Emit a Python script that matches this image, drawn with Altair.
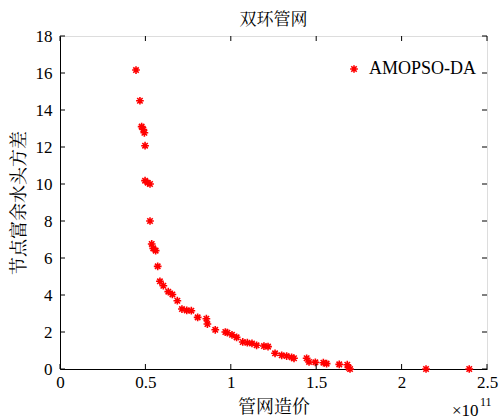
import altair as alt
import pandas as pd

# 管网造价 (x 1e11) and 节点富余水头方差
cost = [0.445, 0.468, 0.478, 0.488, 0.494, 0.498, 0.498, 0.513, 0.527,
        0.527, 0.537, 0.546, 0.560, 0.572, 0.585, 0.605, 0.634, 0.658, 0.687,
        0.714, 0.742, 0.769, 0.806, 0.857, 0.863, 0.909, 0.968, 0.980, 1.007,
        1.034, 1.070, 1.097, 1.124, 1.151, 1.194, 1.218, 1.259, 1.298, 1.327,
        1.356, 1.370, 1.444, 1.458, 1.495, 1.542, 1.561, 1.635, 1.682, 1.690,
        1.698, 2.143, 2.396]
variance = [16.16, 14.50, 13.10, 12.95, 12.77, 12.07, 10.18, 10.07, 10.00,
            8.00, 6.76, 6.52, 6.40, 5.55, 4.74, 4.50, 4.18, 4.03, 3.69,
            3.24, 3.17, 3.15, 2.79, 2.72, 2.43, 2.12, 2.00, 1.96, 1.85,
            1.71, 1.46, 1.42, 1.38, 1.28, 1.24, 1.21, 0.85, 0.74, 0.70,
            0.63, 0.58, 0.58, 0.38, 0.36, 0.34, 0.29, 0.25, 0.23, 0.07,
            0.00, 0.00, 0.00]
series = "AMOPSO-DA"
xticks = [0, 0.5, 1, 1.5, 2, 2.5]
yticks = [0, 2, 4, 6, 8, 10, 12, 14, 16, 18]

W, H = 427, 333
FONT = "Times New Roman, Liberation Serif, Noto Serif CJK SC, Noto Sans CJK SC"
STAR = "M-1,0L1,0M0,-1L0,1M-0.7,-0.7L0.7,0.7M-0.7,0.7L0.7,-0.7"

df = pd.DataFrame({"cost": cost, "var": variance, "series": [series] * len(cost)})
xt = pd.DataFrame({"cost": xticks})
yt = pd.DataFrame({"var": yticks})

xscale = alt.Scale(domain=[0, 2.5], nice=False, zero=False)
yscale = alt.Scale(domain=[0, 18], nice=False, zero=False)

xaxis = alt.Axis(values=xticks, format="~g", ticks=False, domain=True, domainColor="#000",
                 grid=False, labelOverlap=False, labelFlush=False,
                 labelFont=FONT, labelFontSize=17, labelColor="#000", labelPadding=5,
                 title="管网造价", titleFont=FONT, titleFontSize=18, titleFontWeight="normal",
                 titleColor="#000", titlePadding=8)
yaxis = alt.Axis(values=yticks, ticks=False, domain=True, domainColor="#000",
                 grid=False, labelOverlap=False, labelFlush=False, labelBound=False,
                 labelFont=FONT, labelFontSize=17, labelColor="#000", labelPadding=8,
                 title="节点富余水头方差", titleFont=FONT, titleFontSize=18,
                 titleFontWeight="normal", titleColor="#000", titlePadding=7)

X = alt.X("cost:Q", scale=xscale, axis=xaxis)
Y = alt.Y("var:Q", scale=yscale, axis=yaxis)

pts = alt.Chart(df).mark_point(shape=STAR, filled=False, strokeWidth=1.6, size=60, opacity=1).encode(
    x=X, y=Y,
    color=alt.Color("series:N", scale=alt.Scale(range=["#ff0000"]),
                    legend=alt.Legend(title=None, orient="none", legendX=285, legendY=24,
                                      symbolType=STAR, symbolSize=60, symbolStrokeWidth=1.6,
                                      labelFont=FONT, labelFontSize=18, labelColor="#000",
                                      labelOffset=6, padding=0)),
)

tick_bottom = alt.Chart(xt).mark_rule(color="#000", strokeWidth=1).encode(
    x=X, y=alt.value(H), y2=alt.value(H - 5))
tick_top = alt.Chart(xt).mark_rule(color="#000", strokeWidth=1).encode(
    x=X, y=alt.value(0), y2=alt.value(5))
tick_left = alt.Chart(yt).mark_rule(color="#000", strokeWidth=1).encode(
    y=Y, x=alt.value(0), x2=alt.value(5))
tick_right = alt.Chart(yt).mark_rule(color="#000", strokeWidth=1).encode(
    y=Y, x=alt.value(W), x2=alt.value(W - 5))

exp_base = alt.Chart(pd.DataFrame({"s": ["×10"]})).mark_text(
    font=FONT, fontSize=17, color="#000", align="left", baseline="alphabetic").encode(
    text="s:N", x=alt.value(392), y=alt.value(H + 47))
exp_pow = alt.Chart(pd.DataFrame({"s": ["11"]})).mark_text(
    font=FONT, fontSize=12, color="#000", align="left", baseline="alphabetic").encode(
    text="s:N", x=alt.value(420), y=alt.value(H + 37))

chart = alt.layer(pts, tick_bottom, tick_top, tick_left, tick_right, exp_base, exp_pow).properties(
    width=W, height=H,
    title=alt.Title("双环管网", font=FONT, fontSize=17, fontWeight="normal", color="#000",
                    offset=3, dy=5),
    autosize=alt.AutoSizeParams(type="none"),
    padding={"left": 60, "top": 36, "right": 12, "bottom": 50},
).configure_view(stroke="#000", strokeWidth=1).configure(background="white")

chart.save("out.html", embed_options={"renderer": "svg", "actions": False})
